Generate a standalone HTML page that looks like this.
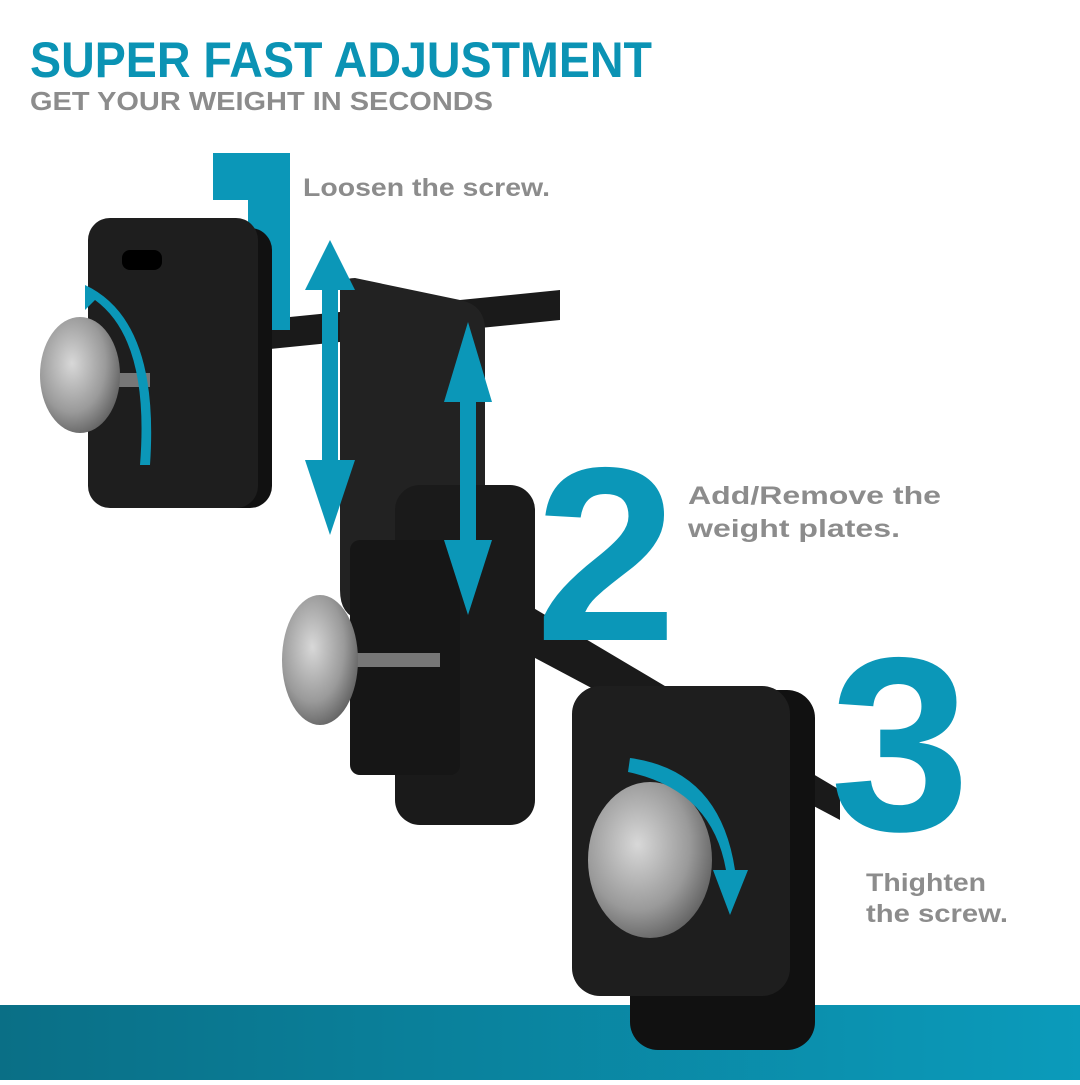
<!DOCTYPE html>
<html><head><meta charset="utf-8"><style>
body{margin:0;width:1080px;height:1080px;background:#fff;overflow:hidden;font-family:"Liberation Sans",sans-serif}
</style></head><body>
<svg width="1080" height="1080" viewBox="0 0 1080 1080" xmlns="http://www.w3.org/2000/svg">
<defs>
<linearGradient id="band" x1="0" x2="1"><stop offset="0" stop-color="#0a6f86"/><stop offset="1" stop-color="#0b9bbb"/></linearGradient>
<radialGradient id="knob" cx="0.4" cy="0.4" r="0.7"><stop offset="0" stop-color="#d8d8d8"/><stop offset="0.6" stop-color="#9a9a9a"/><stop offset="1" stop-color="#555"/></radialGradient>
</defs>
<rect x="0" y="1005" width="1080" height="75" fill="url(#band)"/>
<text x="30" y="77" font-size="50" font-weight="bold" fill="#0b93b4" textLength="622" lengthAdjust="spacingAndGlyphs">SUPER FAST ADJUSTMENT</text>
<text x="30" y="110" font-size="26" font-weight="bold" fill="#8c8c8c" textLength="463" lengthAdjust="spacingAndGlyphs">GET YOUR WEIGHT IN SECONDS</text>
<!-- bars -->
<polygon points="260,320 560,290 560,320 260,350" fill="#1a1a1a"/>
<polygon points="520,600 840,790 840,820 520,650" fill="#1a1a1a"/>
<!-- number 1 -->
<path d="M213,153 L290,153 L290,330 L248,330 L248,200 L213,200 Z" fill="#0b97b8"/>
<!-- plate 1 -->
<rect x="150" y="228" width="122" height="280" rx="22" fill="#111"/>
<rect x="88" y="218" width="170" height="290" rx="22" fill="#1e1e1e"/>
<rect x="122" y="250" width="40" height="20" rx="8" fill="#000"/>
<line x1="60" y1="380" x2="150" y2="380" stroke="#777" stroke-width="14"/>
<ellipse cx="80" cy="375" rx="40" ry="58" fill="url(#knob)"/>
<path d="M85,285 Q160,320 150,465 L140,465 Q150,340 95,300 L85,310 Z" fill="#0b97b8"/>
<!-- plate 2 center -->
<path d="M340,290 Q340,278 355,278 L460,300 Q485,305 485,330 L485,560 Q485,640 460,640 L360,620 Q340,615 340,590 Z" fill="#222"/>
<rect x="395" y="485" width="140" height="340" rx="25" fill="#1a1a1a"/>
<rect x="350" y="540" width="110" height="235" rx="10" fill="#161616"/>
<line x1="340" y1="660" x2="440" y2="660" stroke="#777" stroke-width="14"/>
<ellipse cx="320" cy="660" rx="38" ry="65" fill="url(#knob)"/>
<!-- arrows -->
<path d="M330,240 L355,290 L338,290 L338,460 L355,460 L330,535 L305,460 L322,460 L322,290 L305,290 Z" fill="#0b97b8"/>
<path d="M468,322 L492,402 L476,402 L476,540 L492,540 L468,615 L444,540 L460,540 L460,402 L444,402 Z" fill="#0b97b8"/>
<!-- number 2 -->
<text x="535" y="640" font-size="248" font-weight="bold" fill="#0b97b8" textLength="142" lengthAdjust="spacingAndGlyphs">2</text>
<!-- plate 3 -->
<rect x="630" y="690" width="185" height="360" rx="28" fill="#111"/>
<rect x="572" y="686" width="218" height="310" rx="28" fill="#1e1e1e"/>
<ellipse cx="650" cy="860" rx="62" ry="78" fill="url(#knob)"/>
<path d="M630,758 Q720,770 735,870 L748,870 L730,915 L713,870 L726,870 Q712,790 628,772 Z" fill="#0b97b8"/>
<!-- number 3 -->
<text x="830" y="830" font-size="248" font-weight="bold" fill="#0b97b8" textLength="140" lengthAdjust="spacingAndGlyphs">3</text>
<!-- captions -->
<g font-size="25" font-weight="bold" fill="#8c8c8c">
<text x="303" y="196" textLength="247" lengthAdjust="spacingAndGlyphs">Loosen the screw.</text>
<text x="688" y="504" textLength="253" lengthAdjust="spacingAndGlyphs">Add/Remove the</text>
<text x="688" y="537" textLength="212" lengthAdjust="spacingAndGlyphs">weight plates.</text>
<text x="866" y="891" textLength="120" lengthAdjust="spacingAndGlyphs">Thighten</text>
<text x="866" y="922" textLength="142" lengthAdjust="spacingAndGlyphs">the screw.</text>
</g>
</svg>
</body></html>
